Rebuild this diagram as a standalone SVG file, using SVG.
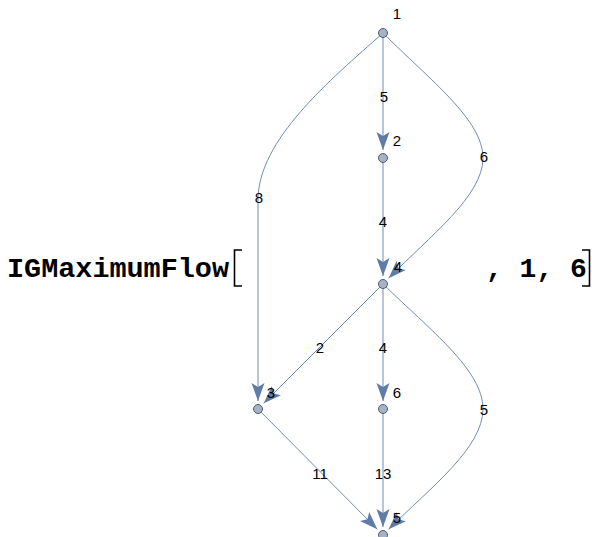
<svg xmlns="http://www.w3.org/2000/svg" width="592" height="537" viewBox="0 0 592 537">
  <defs>
    <style>
      .edge { fill: none; stroke: #6f8cb8; stroke-width: 1; }
      .node { fill: #a4b3ca; stroke: #4a4f57; stroke-width: 0.9; }
      .vlab { font-family: "Liberation Sans", Arial, sans-serif; font-size: 15px; fill: #000; text-anchor: middle; }
      .elab { font-family: "Liberation Sans", Arial, sans-serif; font-size: 15px; fill: #000; text-anchor: middle; }
      .code { font-family: "Liberation Mono", "Courier New", monospace; font-size: 28px; font-weight: bold; fill: #000; }
      .br { fill: none; stroke: #000; stroke-width: 1.6; }
    </style>
    <marker id="ah" viewBox="-20 -8 21 16" markerWidth="21" markerHeight="16" refX="0" refY="0" orient="auto" markerUnits="userSpaceOnUse">
      <path d="M0,0 L-18,-6.5 L-14,0 L-18,6.5 Z" fill="#5f7ba8"/>
    </marker>
  </defs>
  <rect width="592" height="537" fill="#fff"/>

  <g id="expression">
    <text class="code" x="7" y="277" textLength="222" lengthAdjust="spacingAndGlyphs">IGMaximumFlow</text>
    <path class="br" d="M242,250 L234.5,250 L234.5,286 L242,286"/>
    <text class="code" x="486" y="277">, 1, 6</text>
    <path class="br" d="M582,250 L589.5,250 L589.5,286 L582,286"/>
  </g>

  <g id="connectors">
    <path class="edge" d="M383,33 L383,150" marker-end="url(#ah)"/>
    <path class="edge" d="M383,158 L383,276" marker-end="url(#ah)"/>
    <path class="edge" d="M383,284 L383,401" marker-end="url(#ah)"/>
    <path class="edge" d="M383,409 L383,527" marker-end="url(#ah)"/>
    <path class="edge" d="M383,33 C330,80 258,140 258,200 L258,401" marker-end="url(#ah)"/>
    <path class="edge" d="M383,33 C430,80 483,120 483,158 C483,196 430,236 388.6,278.3" marker-end="url(#ah)"/>
    <path class="edge" d="M383,284 L263.7,403.3" marker-end="url(#ah)"/>
    <path class="edge" d="M383,284 C430,330 483,370 483,409 C483,448 430,488 388.6,529.3" marker-end="url(#ah)"/>
    <path class="edge" d="M258,409 L377.3,529.3" marker-end="url(#ah)"/>
    <text class="elab" x="384" y="102">5</text>
    <text class="elab" x="383" y="227">4</text>
    <text class="elab" x="259" y="203">8</text>
    <text class="elab" x="484" y="162">6</text>
    <text class="elab" x="320" y="353">2</text>
    <text class="elab" x="383" y="353">4</text>
    <text class="elab" x="484" y="415">5</text>
    <text class="elab" x="320" y="479">11</text>
    <text class="elab" x="383" y="479">13</text>
  </g>

  <g id="n1"><circle class="node" cx="383" cy="33" r="4.5"/><text class="vlab" x="397" y="19">1</text></g>
  <g id="n2"><circle class="node" cx="383" cy="158" r="4.5"/><text class="vlab" x="397" y="146">2</text></g>
  <g id="n4"><circle class="node" cx="383" cy="284" r="4.5"/><text class="vlab" x="398" y="272">4</text></g>
  <g id="n3"><circle class="node" cx="258" cy="409" r="4.5"/><text class="vlab" x="271" y="398">3</text></g>
  <g id="n6"><circle class="node" cx="383" cy="409" r="4.5"/><text class="vlab" x="397" y="398">6</text></g>
  <g id="n5"><circle class="node" cx="383" cy="535" r="4.5"/><text class="vlab" x="397" y="523">5</text></g>
</svg>
